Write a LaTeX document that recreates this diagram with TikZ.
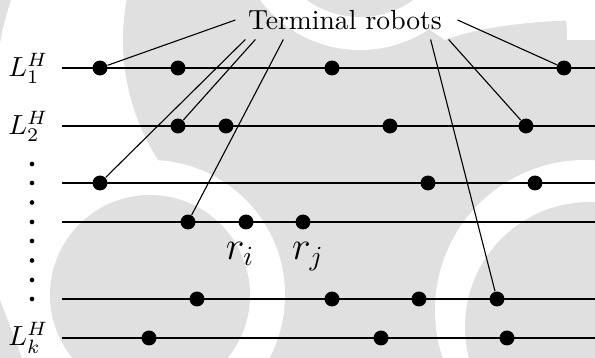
\documentclass[tikz,border=0pt]{standalone}
\usetikzlibrary{calc}
\definecolor{wm}{RGB}{224,224,224}
\begin{document}
\begin{tikzpicture}[x=0.362pt,y=-0.362pt,
  rob/.style={circle,fill=black,inner sep=0pt,minimum size=5.4pt},
  lane/.style={line width=1pt},
  conn/.style={line width=0.4pt},
  vdot/.style={circle,fill=black,inner sep=0pt,minimum size=1.7pt},
  lbl/.style={anchor=east,xshift=-1.5pt}]
\useasboundingbox (0,0) rectangle (595,358);
\fill[white] (0,0) rectangle (595,358);
% background watermark
\begin{scope}
\clip (0,0) rectangle (595,358);
\fill[wm] (345,40) circle (222);
\fill[wm] (250,40) rectangle (595,358);
\fill[wm] (0,0) -- (11,0) .. controls (6,15) and (2,30) .. (0,43) -- cycle;
\fill[wm] (0,300) .. controls (8,320) and (15,340) .. (22,358) -- (0,358) -- cycle;
\fill[white] (360,-75) circle (125);
\fill[white] (420,0) -- (595,0) -- (595,20) .. controls (540,20) and (480,26) .. (445,40) -- (430,30) -- cycle;
\fill[white] (150,295) circle (135);
\fill[white] (585,310) circle (150);
\fill[wm] (360,-75) circle (92);
\fill[wm] (150,295) circle (100);
\fill[wm] (590,327) circle (125);
\end{scope}
% lanes
\foreach \y/\n in {68/1,126/2,183/3,222/4,299/5,338/6}{
  \coordinate (s\n) at (62,\y);
  \coordinate (e\n) at (595,\y);
  \draw[lane] (s\n) -- (e\n);
}
% labels
\node[lbl] (L1) at (s1) {$L_1^H$};
\node[lbl] (L2) at (s2) {$L_2^H$};
\node[lbl] (Lk) at (s6) {$L_k^H$};
\foreach \y [count=\i] in {164,183,202.5,222,241,260.5,280,299}
  \node[vdot] (d\i) at (32,\y) {};
% robots
\foreach \x [count=\i] in {100,178,332,564} \node[rob] (r1\i) at (\x,68) {};
\foreach \x [count=\i] in {178,226,390,526} \node[rob] (r2\i) at (\x,126) {};
\foreach \x [count=\i] in {100,428,535} \node[rob] (r3\i) at (\x,183) {};
\foreach \x [count=\i] in {188,246,303} \node[rob] (r4\i) at (\x,222) {};
\foreach \x [count=\i] in {197,332,419,497} \node[rob] (r5\i) at (\x,299) {};
\foreach \x [count=\i] in {149,381,507} \node[rob] (r6\i) at (\x,338) {};
\node[anchor=base] (ri) at (240,260) {\Large$r_i$};
\node[anchor=base] (rj) at (308,260) {\Large$r_j$};
% terminal label and connectors
\node (tr) at (345,20) {Terminal robots};
\draw[conn] ($(tr.west)+(-3,0)$) -- (r11);
\draw[conn] ($(tr.south west)+(7,0)$) -- (r31);
\draw[conn] ($(tr.south west)+(17,0)$) -- (r21);
\draw[conn] ($(tr.south west)+(45,0)$) -- (r41);
\draw[conn] ($(tr.east)+(6,0)$) -- (r14);
\draw[conn] ($(tr.south east)+(-3,0)$) -- (r24);
\draw[conn] ($(tr.south east)+(-21,0)$) -- (r54);
\end{tikzpicture}
\end{document}
